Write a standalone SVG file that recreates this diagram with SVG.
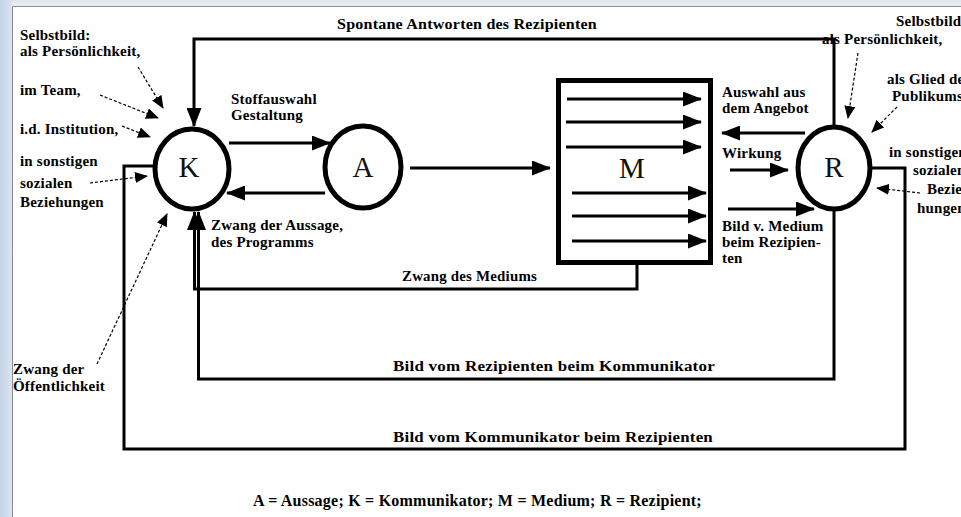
<svg xmlns="http://www.w3.org/2000/svg" width="961" height="517" viewBox="0 0 961 517">
<defs>
<linearGradient id="lg" x1="0" y1="0" x2="1" y2="0"><stop offset="0" stop-color="#c6d4e8"/><stop offset="1" stop-color="#dbe4ef"/></linearGradient>
<linearGradient id="tg" x1="0" y1="0" x2="0" y2="1"><stop offset="0" stop-color="#dfe6ee"/><stop offset="1" stop-color="#e9edf2"/></linearGradient>
<marker id="ah" markerUnits="userSpaceOnUse" markerWidth="19" markerHeight="15" refX="18" refY="7.5" orient="auto"><path d="M0,0 L19,7.5 L0,15 z" fill="#000"/></marker>
<marker id="as" markerUnits="userSpaceOnUse" markerWidth="13" markerHeight="11" refX="12" refY="5.5" orient="auto"><path d="M0,0 L13,5.5 L0,11 z" fill="#000"/></marker>
<style>
text{font-family:"Liberation Serif","DejaVu Serif","Times New Roman",serif}
.t{font-weight:bold;font-size:15px;fill:#000;letter-spacing:0.2px}
.big{font-size:29px;fill:#111;text-anchor:middle}
.c{fill:none;stroke:#000;stroke-width:3}
.arr{marker-end:url(#ah)}
.d{fill:none;stroke:#000;stroke-width:1.2;stroke-dasharray:3 2;marker-end:url(#as)}
.node{fill:#fff;stroke:#000;stroke-width:5}
</style>
</defs>
<rect width="961" height="517" fill="#fff"/>
<rect x="0" y="0" width="12" height="517" fill="url(#lg)"/>
<rect x="12" y="0" width="949" height="6" fill="url(#tg)"/>
<path d="M12.5,517 V6.5 H961" fill="none" stroke="#8c8c8c" stroke-width="1"/>

<g id="connectors">
<path class="c arr" d="M834,126 V39 H194 V126"/>
<path class="c arr" d="M229,143 H330"/>
<path class="c arr" d="M325,193 H227"/>
<path class="c arr" d="M410,168 H550"/>
<path class="c arr" d="M805,133 H722"/>
<path class="c arr" d="M730,170 H788"/>
<path class="c arr" d="M728,209 H814"/>
<path class="c arr" d="M637,265 V289 H194.5 V212"/>
<path class="c arr" d="M834,210 V379 H198.5 V212"/>
<path class="c" d="M154,166 H124 V449 H905 V168 H871"/>
<path class="d" d="M138,67 L163,108"/>
<path class="d" d="M100,95 L158,118"/>
<path class="d" d="M122,126 L150,137"/>
<path class="d" d="M90,183 L147,176"/>
<path class="d" d="M97,364 L167,214"/>
<path class="d" d="M858,53 L848,118"/>
<path class="d" d="M897,107 L872,132"/>
<path class="d" d="M920,193 L877,188"/>
</g>

<g id="node-K"><ellipse class="node" cx="192" cy="169" rx="37" ry="40"/><text class="big" x="189" y="177">K</text></g>
<g id="node-A"><ellipse class="node" cx="363" cy="167" rx="38" ry="41"/><text class="big" x="363" y="177">A</text></g>
<g id="node-R"><ellipse class="node" cx="834" cy="168" rx="36" ry="41"/><text class="big" x="834" y="177">R</text></g>
<g id="node-M">
<rect class="node" x="558.5" y="80.5" width="152" height="182"/>
<text class="big" x="632" y="178">M</text>
<path class="c arr" d="M567,99 H701"/>
<path class="c arr" d="M566,122 H701"/>
<path class="c arr" d="M566,147 H701"/>
<path class="c arr" d="M572,193 H706"/>
<path class="c arr" d="M572,216 H706"/>
<path class="c arr" d="M572,241 H706"/>
</g>

<g id="labels">
<text class="t" x="337" y="29" textLength="260" lengthAdjust="spacingAndGlyphs">Spontane Antworten des Rezipienten</text>
<text class="t" x="20" y="40">Selbstbild:</text>
<text class="t" x="20" y="56">als Persönlichkeit,</text>
<text class="t" x="20" y="95">im Team,</text>
<text class="t" x="20" y="134">i.d. Institution,</text>
<text class="t" x="20" y="166">in sonstigen</text>
<text class="t" x="20" y="188">sozialen</text>
<text class="t" x="20" y="207">Beziehungen</text>
<text class="t" x="13" y="374">Zwang der</text>
<text class="t" x="13" y="391">Öffentlichkeit</text>
<text class="t" x="231" y="104">Stoffauswahl</text>
<text class="t" x="231" y="120">Gestaltung</text>
<text class="t" x="211" y="230">Zwang der Aussage,</text>
<text class="t" x="211" y="247">des Programms</text>
<text class="t" x="402" y="281" textLength="135" lengthAdjust="spacingAndGlyphs">Zwang des Mediums</text>
<text class="t" x="393" y="371" textLength="322" lengthAdjust="spacingAndGlyphs">Bild vom Rezipienten beim Kommunikator</text>
<text class="t" x="393" y="442" textLength="320" lengthAdjust="spacingAndGlyphs">Bild vom Kommunikator beim Rezipienten</text>
<text class="t" x="722" y="97">Auswahl aus</text>
<text class="t" x="722" y="113">dem Angebot</text>
<text class="t" x="722" y="158">Wirkung</text>
<text class="t" x="722" y="231">Bild v. Medium</text>
<text class="t" x="722" y="247">beim Rezipien-</text>
<text class="t" x="722" y="263">ten</text>
<text class="t" x="896" y="26">Selbstbild:</text>
<text class="t" x="822" y="44">als Persönlichkeit,</text>
<text class="t" x="887" y="84">als Glied des</text>
<text class="t" x="892" y="101">Publikums</text>
<text class="t" x="889" y="157">in sonstigen</text>
<text class="t" x="913" y="175">sozialen</text>
<text class="t" x="927" y="194">Bezie-</text>
<text class="t" x="917" y="213">hungen</text>
<text class="t" x="253" y="506" style="font-size:16px;letter-spacing:0.3px" textLength="449">A = Aussage; K = Kommunikator; M = Medium; R = Rezipient;</text>
</g>
</svg>
